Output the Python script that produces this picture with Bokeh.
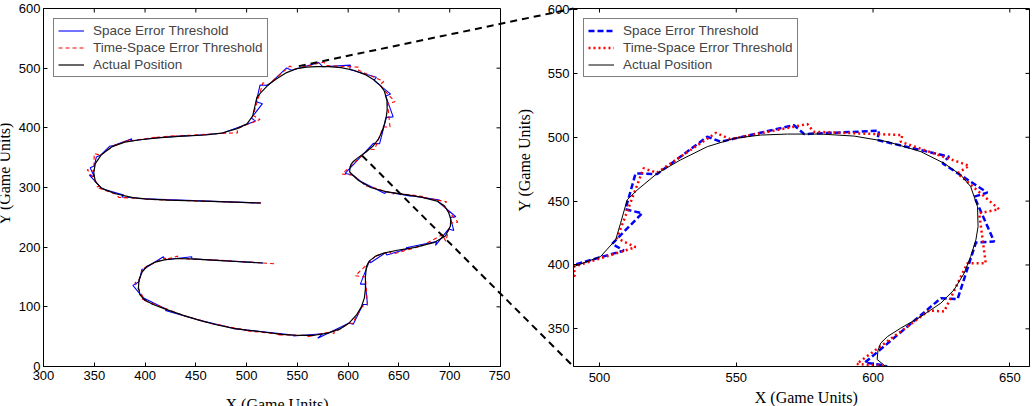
import math
from bokeh.plotting import figure
from bokeh.models import Range1d, Label, Legend, LegendItem, FixedTicker
from bokeh.layouts import row, column
from bokeh.embed import file_html
from bokeh.resources import INLINE

# ---------------- data (game units) ----------------
ACT_X = [514, 480, 450, 422, 400, 388, 370, 357, 351, 349.5, 351, 357, 367, 380, 395, 415, 437, 460, 475,
         490.6, 500.4, 505.9, 507.7, 510.1, 513.8, 521.1, 529.6, 539.4, 549.2, 558.9, 568.7, 580.9, 593.1,
         605.3, 617.5, 626, 632.1, 635.7, 638.2, 638.4, 637.6, 635.7, 633.3, 629.6, 624.8, 617.5, 610.1,
         605.3, 602.8, 601.8, 601.5, 604.6, 610, 622, 637, 654.8, 672, 687.6, 695, 699, 701, 700.7, 695.8,
         684.3, 664.6, 648.3, 635, 627, 621, 618, 617, 617, 616, 613, 608, 601, 592, 580, 565, 550, 535,
         520, 500, 487, 470, 454.6, 437, 422, 408, 400, 395, 393.5, 394, 397, 402, 410, 420, 432, 450, 470,
         490, 516]
ACT_Y = [274, 276, 277.5, 279, 281, 283, 290, 299, 310, 325, 340, 355, 368, 376, 380, 383.5, 386, 388, 391,
         398.7, 406.6, 419.6, 432.6, 450.9, 458.7, 471.7, 482.2, 492.6, 499.1, 501.7, 502.5, 502.5, 500.9,
         496.5, 488.7, 479.6, 470.4, 461.3, 445.7, 430, 419.6, 406.6, 393.5, 380.5, 370.1, 359.6, 350.5,
         344, 338.8, 333, 326, 320.6, 312, 300, 293, 288.4, 284, 277.3, 269, 257.7, 247, 235.4, 218.7,
         207.5, 199.2, 194.8, 190, 185, 177, 168, 150, 130, 115, 100, 86, 73, 63, 56, 52, 52, 54,
         57, 61, 64, 70, 77, 86, 95, 104, 111, 120, 132, 145, 158, 168, 175, 179, 181, 180, 178,
         176, 173.5]

SPACE_X = [514, 393, 392, 377, 379, 361, 357, 345, 350, 346, 350, 352, 356, 365, 369, 387, 386, 405, 404,
           440, 440, 476, 508.9, 504.6, 515.6, 509.5, 513.2, 521.1, 539.4, 544.3, 571.1, 574.8, 602.2,
           601.6, 627.8, 625.4, 641.8, 637, 644.3, 637.6, 630.9, 624.8, 597, 604.3, 616, 613, 636, 637,
           662, 660, 690, 688, 706, 700.5, 704, 699, 686, 687, 657, 660, 638, 637, 622, 621, 612, 617,
           619, 614.5, 605, 601, 570, 575, 546, 550, 487, 487, 454, 454.6, 420, 422, 397, 400, 388, 394,
           397, 399, 418, 420, 446, 446, 516]
SPACE_Y = [274, 281.6, 282.5, 284, 287.2, 296, 299, 321, 318, 333, 336, 351, 354, 369, 370.5, 381.5, 378,
           382, 382, 387, 386.2, 391, 411.3, 416.5, 440.5, 443.6, 471.7, 471.2, 500.4, 496.5, 509.5, 502.5,
           505.1, 497.8, 484.8, 479.6, 456.6, 453.5, 418.3, 417.5, 373.2, 374, 323.5, 321.3, 305, 309.5,
           290, 293, 285.5, 286.8, 279, 277, 251, 250, 228, 230.5, 203, 209.5, 199, 198.3, 187, 190.8,
           174, 177, 138, 138, 104, 104, 71, 73, 47.5, 55, 51, 52, 63.5, 64, 77.5, 77, 94, 95, 116, 111,
           136, 142, 163, 163.5, 184, 179, 184, 180.5, 173.5]

TS_X = [514, 400, 398, 374, 372, 352, 355, 343, 349.5, 350, 356, 371, 369, 384, 382, 410, 409, 430, 428,
        470, 471, 491, 490.6, 513.2, 506.4, 516.1, 521, 542.6, 547.8, 576, 578.3, 610.7, 610.1, 635.1,
        630.9, 646.1, 638.8, 641.2, 634.5, 626, 620.5, 594, 604.5, 618, 619, 645, 645, 676, 675, 697,
        693, 708, 701, 696, 693, 670, 670, 643, 641, 626, 627, 607, 617, 619, 614, 604, 601, 585, 588,
        560, 565, 530, 535, 498, 500, 470, 470, 440, 437, 405, 408, 397, 400, 390, 394, 398, 402, 420,
        420, 432, 432, 475, 475, 530]
TS_Y = [274, 280.2, 281.4, 283.5, 288.5, 300.5, 302, 330, 327, 357, 354, 372, 370, 379.5, 377.5, 384, 383.7,
        386.8, 386, 390, 390.5, 391.5, 398.7, 413.9, 420.9, 475.7, 472.2, 503.5, 498.5, 510.3, 504.3,
        501.7, 496.5, 477.7, 471.7, 443.6, 440.5, 401.4, 401.4, 363.6, 364.3, 322.5, 320.8, 302.5, 303,
        289, 291, 284.5, 283, 276, 271, 242, 240, 210, 221, 200, 201, 188, 193, 184.5, 185, 152, 150,
        103, 101, 72, 73, 55, 60, 50, 52, 53, 54, 60, 61, 70.5, 70, 84, 86, 107, 104, 113, 111, 140,
        145, 164, 168, 182, 179, 185, 181, 178, 177.8, 172]

SERIES_NAMES = ["Space Error Threshold", "Time-Space Error Threshold", "Actual Position"]

LEFT_X_TICKS = [300, 350, 400, 450, 500, 550, 600, 650, 700, 750]
LEFT_Y_TICKS = [0, 100, 200, 300, 400, 500, 600]
ZOOM_X_TICKS = [500, 550, 600, 650]
ZOOM_Y_TICKS = [350, 400, 450, 500, 550, 600]

LEFT_X_RANGE = (300, 750)
LEFT_Y_RANGE = (0, 600)
ZOOM_X_RANGE = (490.5, 657.2)
ZOOM_Y_RANGE = (320.5, 600.8)

# points of the full view joined to the zoom panel's left corners
LINK_FROM_X = [551.4, 613.7]
LINK_FROM_Y = [502.0, 352.5]

X_LABEL = "X (Game Units)"
Y_LABEL = "Y (Game Units)"
# anchor of the axis titles, in each panel's own data units
LEFT_XLAB_AT = (530.0, -50.0)
LEFT_YLAB_AT = (261.5, 322.5)
ZOOM_XLAB_AT = (575.6, 302.8)
ZOOM_YLAB_AT = (472.5, 482.2)

NUM_FONT = "Liberation Sans"
LAB_FONT = "Liberation Serif"

H = 406
LEFT_W, RIGHT_W = 510, 524
LEFT_B = dict(left=43, right=10, top=7, bottom=40)
RIGHT_B = dict(left=63, right=5, top=8, bottom=40)
TICK_LEN = 4


def make_panel(width, xr, yr, b, xticks, yticks, xstd, ystd):
    p = figure(width=width, height=H, x_range=Range1d(*xr), y_range=Range1d(*yr),
               output_backend="svg", toolbar_location=None,
               min_border_left=b["left"], min_border_right=b["right"],
               min_border_top=b["top"], min_border_bottom=b["bottom"])
    for ax, ticks, std in [(p.xaxis[0], xticks, xstd), (p.yaxis[0], yticks, ystd)]:
        ax.ticker = FixedTicker(ticks=ticks)
        ax.major_tick_in = TICK_LEN
        ax.major_tick_out = 0
        ax.minor_tick_in = 0
        ax.minor_tick_out = 0
        ax.axis_line_color = "black"
        ax.major_tick_line_color = "black"
        ax.major_label_text_font = NUM_FONT
        ax.major_label_text_color = "black"
        ax.major_label_text_font_size = "13px"
        ax.major_label_standoff = std
    # inward ticks on the top and right edges
    p.ray(x=xticks, y=[yr[1]] * len(xticks), length=TICK_LEN, length_units="screen",
          angle=-math.pi / 2, line_color="black", line_width=1)
    p.ray(x=[xr[1]] * len(yticks), y=yticks, length=TICK_LEN, length_units="screen",
          angle=math.pi, line_color="black", line_width=1)
    p.grid.visible = False
    p.outline_line_color = "black"
    p.outline_line_alpha = 1
    p.background_fill_color = None
    p.border_fill_color = None
    return p


def add_legend(p, renderers):
    items = [LegendItem(label=n, renderers=[r]) for n, r in zip(SERIES_NAMES, renderers)]
    lg = Legend(items=items, location="top_left", margin=10, padding=4, spacing=2,
                label_height=15, glyph_height=15, glyph_width=26, label_standoff=9,
                label_text_font=NUM_FONT, label_text_font_size="13.5px",
                border_line_color="black", border_line_width=1,
                background_fill_color="white", background_fill_alpha=1)
    p.add_layout(lg)


# ---------------- left: full trajectory ----------------
left = make_panel(LEFT_W, LEFT_X_RANGE, LEFT_Y_RANGE, LEFT_B, LEFT_X_TICKS, LEFT_Y_TICKS, 4, 3)
r1 = left.line(SPACE_X, SPACE_Y, line_color="blue", line_width=1.1)
r2 = left.line(TS_X, TS_Y, line_color="red", line_width=1.1, line_dash="4 3")
r3 = left.line(ACT_X, ACT_Y, line_color="black", line_width=1.2)
add_legend(left, [r1, r2, r3])

# ---------------- right: zoomed detail ----------------
right = make_panel(RIGHT_W, ZOOM_X_RANGE, ZOOM_Y_RANGE, RIGHT_B, ZOOM_X_TICKS, ZOOM_Y_TICKS, 6, 4)
q1 = right.line(SPACE_X, SPACE_Y, line_color="blue", line_width=2.5, line_dash="6 3")
q2 = right.line(TS_X, TS_Y, line_color="red", line_width=2.5, line_dash="2 3")
q3 = right.line(ACT_X, ACT_Y, line_color="black", line_width=1)
add_legend(right, [q1, q2, q3])


# ---------------- overlay: zoom connector lines and axis titles ----------------
def to_window(x, y, x0, b, width, xr, yr):
    fw = width - b["left"] - b["right"]
    fh = H - b["top"] - b["bottom"]
    gx = x0 + b["left"] + (x - xr[0]) / (xr[1] - xr[0]) * fw
    gy = b["top"] + (yr[1] - y) / (yr[1] - yr[0]) * fh
    return gx, gy


def in_left(x, y):
    return to_window(x, y, 0, LEFT_B, LEFT_W, LEFT_X_RANGE, LEFT_Y_RANGE)


def in_right(x, y):
    return to_window(x, y, LEFT_W, RIGHT_B, RIGHT_W, ZOOM_X_RANGE, ZOOM_Y_RANGE)


starts = [in_left(x, y) for x, y in zip(LINK_FROM_X, LINK_FROM_Y)]
corners = [(ZOOM_X_RANGE[0], ZOOM_Y_RANGE[1]), (ZOOM_X_RANGE[0], ZOOM_Y_RANGE[0])]
ends = [in_right(x, y) for x, y in corners]

ov = figure(width=LEFT_W + RIGHT_W, height=H, x_range=Range1d(0, LEFT_W + RIGHT_W), y_range=Range1d(H, 0),
            output_backend="svg", toolbar_location=None, x_axis_type=None, y_axis_type=None,
            min_border=0, min_border_left=0, min_border_right=0, min_border_top=0, min_border_bottom=0)
ov.outline_line_color = None
ov.background_fill_color = None
ov.border_fill_color = None
ov.grid.visible = False
ov.segment(x0=[s[0] for s in starts], y0=[s[1] for s in starts],
           x1=[e[0] for e in ends], y1=[e[1] for e in ends],
           line_color="black", line_width=2, line_dash="7 5")

for conv, at in [(in_left, LEFT_XLAB_AT), (in_right, ZOOM_XLAB_AT)]:
    gx, gy = conv(*at)
    ov.add_layout(Label(x=gx, y=gy, text=X_LABEL, text_align="center", text_baseline="top",
                        text_font=LAB_FONT, text_font_size="16px", text_color="black"))
for conv, at in [(in_left, LEFT_YLAB_AT), (in_right, ZOOM_YLAB_AT)]:
    gx, gy = conv(*at)
    ov.add_layout(Label(x=gx, y=gy, text=Y_LABEL, angle=math.pi / 2, text_align="center",
                        text_baseline="alphabetic", text_font=LAB_FONT, text_font_size="16px",
                        text_color="black"))
ov.margin = (-H, 0, 0, 0)

panels = row(left, right)
panels.margin = (0, 0, 0, 0)
layout = column(panels, ov)
layout.margin = (0, 0, 0, 0)

open("out.html", "w").write(file_html(layout, INLINE))
